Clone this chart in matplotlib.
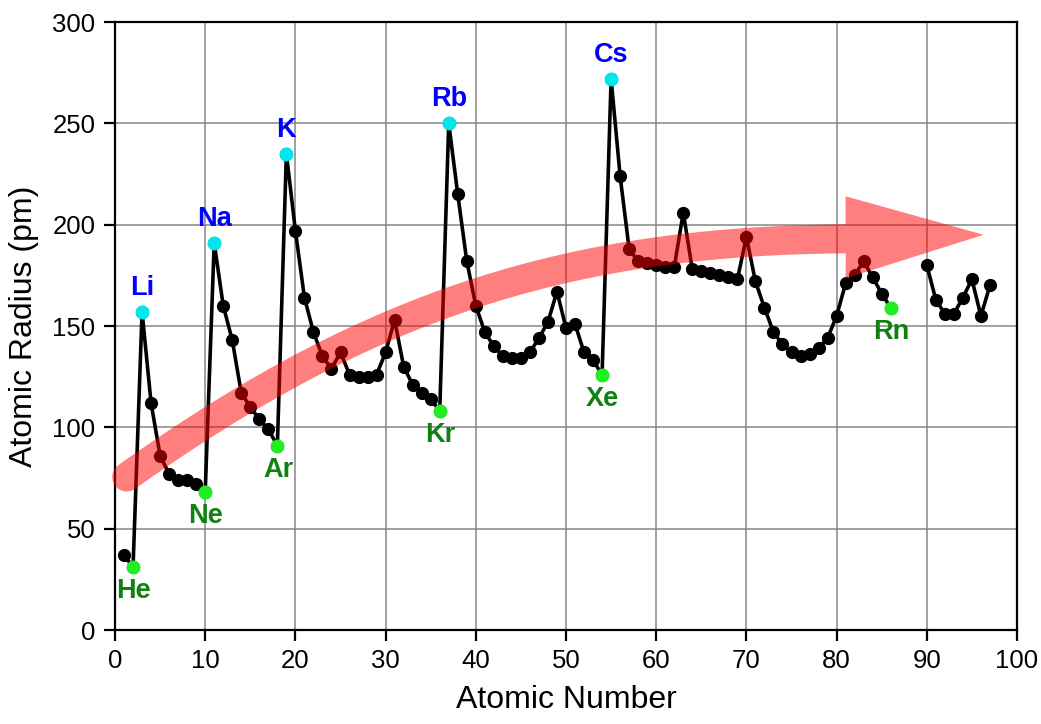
import matplotlib
matplotlib.use("Agg")
import matplotlib.pyplot as plt
import numpy as np
from matplotlib.patches import Polygon

plt.rcParams["font.family"] = ["Liberation Sans", "DejaVu Sans"]

# atomic number 1..97, radius in pm (87-89 missing)
atomic_number = np.arange(1, 98)
radius_pm = [
    37, 31, 157, 112, 86, 77, 74, 74, 72, 68,
    191, 160, 143, 117, 110, 104, 99, 91, 235, 197,
    164, 147, 135, 129, 137, 126, 125, 125, 126, 137,
    153, 130, 121, 117, 114, 108, 250, 215, 182, 160,
    147, 140, 135, 134, 134, 137, 144, 152, 167, 149,
    151, 137, 133, 126, 272, 224, 188, 182, 181, 180,
    179, 179, 206, 178, 177, 176, 175, 174, 173, 194,
    172, 159, 147, 141, 137, 135, 136, 139, 144, 155,
    171, 175, 182, 174, 166, 159, np.nan, np.nan, np.nan, 180,
    163, 156, 156, 164, 173, 155, 170,
]

alkali_z = [3, 11, 19, 37, 55]
alkali_names = ["Li", "Na", "K", "Rb", "Cs"]
noble_z = [2, 10, 18, 36, 54, 86]
noble_names = ["He", "Ne", "Ar", "Kr", "Xe", "Rn"]

# trend arrow: cubic bezier for the shaft, triangle for the head (data units)
ARROW_CTRL = [(1.3, 75.5), (28, 160), (50, 192), (81, 193)]
ARROW_HEAD = [(81, 214), (96.3, 195), (81, 173.5)]
SHAFT_HALF_PX = 14.5

fig = plt.figure(figsize=(10.41, 7.24), dpi=100)
ax = fig.add_axes([115 / 1041, 94 / 724, 902 / 1041, 608 / 724])

r = np.array(radius_pm, dtype=float)
ax.plot(atomic_number, r, color="black", lw=2.6, marker="o", ms=8.5, zorder=3)

ar = [r[z - 1] for z in alkali_z]
ax.plot(alkali_z, ar, ls="none", marker="o", ms=9, color="#00e8ee", zorder=4)
for z, v, name in zip(alkali_z, ar, alkali_names):
    ax.annotate(name, (z, v), xytext=(0, 8), textcoords="offset points",
                ha="center", va="bottom", color="#0000ff", fontsize=19.5,
                fontweight="bold")

nr = [r[z - 1] for z in noble_z]
ax.plot(noble_z, nr, ls="none", marker="o", ms=9, color="#22ee22", zorder=4)
for z, v, name in zip(noble_z, nr, noble_names):
    ax.annotate(name, (z, v), xytext=(0.5, -8), textcoords="offset points",
                ha="center", va="top", color="#108010", fontsize=19.5,
                fontweight="bold")

ax.set_xlim(0, 100)
ax.set_ylim(0, 300)
ax.set_xticks(range(0, 101, 10))
ax.set_yticks(range(0, 301, 50))
ax.grid(True, color="#868686", lw=1.1)
ax.set_axisbelow(True)
for sp in ax.spines.values():
    sp.set_linewidth(1.6)
ax.tick_params(direction="out", length=8, width=1.6, labelsize=18.5, pad=6)
ax.set_xlabel("Atomic Number", fontsize=23, labelpad=8)
ax.set_ylabel("Atomic Radius (pm)", fontsize=23, labelpad=10)

# build the arrow outline in pixels so the translucent fill never overlaps itself
P = ax.transData.transform(np.array(ARROW_CTRL))
t = np.linspace(0, 1, 200)[:, None]
pts = ((1 - t) ** 3 * P[0] + 3 * (1 - t) ** 2 * t * P[1]
       + 3 * (1 - t) * t ** 2 * P[2] + t ** 3 * P[3])
d = np.gradient(pts, axis=0)
d /= np.linalg.norm(d, axis=1)[:, None]
nrm = np.column_stack([-d[:, 1], d[:, 0]])
upper = pts + SHAFT_HALF_PX * nrm
lower = pts - SHAFT_HALF_PX * nrm
a0 = np.arctan2(nrm[0, 1], nrm[0, 0])
ang = a0 + np.linspace(np.pi, 0, 40)  # round tail: -n -> back -> +n
cap = pts[0] + SHAFT_HALF_PX * np.column_stack([np.cos(ang), np.sin(ang)])
head = ax.transData.transform(np.array(ARROW_HEAD))
outline = np.vstack([upper, head, lower[::-1], cap])
outline = ax.transData.inverted().transform(outline)
ax.add_patch(Polygon(outline, closed=True, facecolor="red", edgecolor="none",
                     alpha=0.5, zorder=5, clip_on=False))

fig.savefig("out.png", dpi=100)
